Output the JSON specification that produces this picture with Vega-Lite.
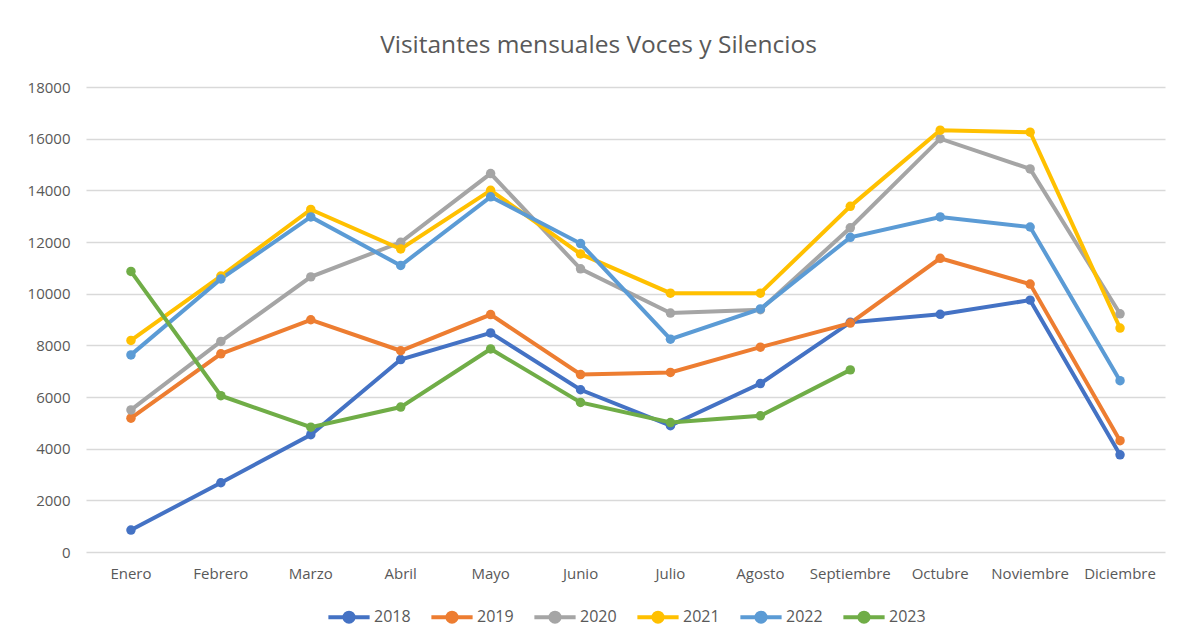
{
  "$schema": "https://vega.github.io/schema/vega-lite/v6.json",
  "autosize": "none",
  "padding": {"left": 86, "top": 87, "right": 12, "bottom": 86},
  "width": 1079,
  "height": 465,
  "background": "white",
  "title": {
    "text": "Visitantes mensuales Voces y Silencios",
    "font": "Open Sans",
    "fontSize": 24.5,
    "fontWeight": "normal",
    "color": "#595959",
    "anchor": "middle",
    "dx": -27,
    "offset": 22
  },
  "config": {
    "view": {"stroke": null},
    "font": "Open Sans",
    "legend": {"layout": {"bottom": {"anchor": "middle"}}}
  },
  "datasets": {
    "d": [
      {"mes": "Enero", "anio": "2018", "v": 850},
      {"mes": "Febrero", "anio": "2018", "v": 2680},
      {"mes": "Marzo", "anio": "2018", "v": 4540},
      {"mes": "Abril", "anio": "2018", "v": 7450},
      {"mes": "Mayo", "anio": "2018", "v": 8480},
      {"mes": "Junio", "anio": "2018", "v": 6280},
      {"mes": "Julio", "anio": "2018", "v": 4890},
      {"mes": "Agosto", "anio": "2018", "v": 6520},
      {"mes": "Septiembre", "anio": "2018", "v": 8890},
      {"mes": "Octubre", "anio": "2018", "v": 9200},
      {"mes": "Noviembre", "anio": "2018", "v": 9750},
      {"mes": "Diciembre", "anio": "2018", "v": 3760},
      {"mes": "Enero", "anio": "2019", "v": 5180},
      {"mes": "Febrero", "anio": "2019", "v": 7670},
      {"mes": "Marzo", "anio": "2019", "v": 8990},
      {"mes": "Abril", "anio": "2019", "v": 7790},
      {"mes": "Mayo", "anio": "2019", "v": 9190},
      {"mes": "Junio", "anio": "2019", "v": 6870},
      {"mes": "Julio", "anio": "2019", "v": 6950},
      {"mes": "Agosto", "anio": "2019", "v": 7930},
      {"mes": "Septiembre", "anio": "2019", "v": 8860},
      {"mes": "Octubre", "anio": "2019", "v": 11370},
      {"mes": "Noviembre", "anio": "2019", "v": 10370},
      {"mes": "Diciembre", "anio": "2019", "v": 4310},
      {"mes": "Enero", "anio": "2020", "v": 5500},
      {"mes": "Febrero", "anio": "2020", "v": 8150},
      {"mes": "Marzo", "anio": "2020", "v": 10650},
      {"mes": "Abril", "anio": "2020", "v": 11990},
      {"mes": "Mayo", "anio": "2020", "v": 14650},
      {"mes": "Junio", "anio": "2020", "v": 10960},
      {"mes": "Julio", "anio": "2020", "v": 9250},
      {"mes": "Agosto", "anio": "2020", "v": 9380},
      {"mes": "Septiembre", "anio": "2020", "v": 12550},
      {"mes": "Octubre", "anio": "2020", "v": 16000},
      {"mes": "Noviembre", "anio": "2020", "v": 14830},
      {"mes": "Diciembre", "anio": "2020", "v": 9220},
      {"mes": "Enero", "anio": "2021", "v": 8190},
      {"mes": "Febrero", "anio": "2021", "v": 10680},
      {"mes": "Marzo", "anio": "2021", "v": 13260},
      {"mes": "Abril", "anio": "2021", "v": 11730},
      {"mes": "Mayo", "anio": "2021", "v": 14000},
      {"mes": "Junio", "anio": "2021", "v": 11540},
      {"mes": "Julio", "anio": "2021", "v": 10020},
      {"mes": "Agosto", "anio": "2021", "v": 10020},
      {"mes": "Septiembre", "anio": "2021", "v": 13380},
      {"mes": "Octubre", "anio": "2021", "v": 16330},
      {"mes": "Noviembre", "anio": "2021", "v": 16250},
      {"mes": "Diciembre", "anio": "2021", "v": 8670},
      {"mes": "Enero", "anio": "2022", "v": 7630},
      {"mes": "Febrero", "anio": "2022", "v": 10570},
      {"mes": "Marzo", "anio": "2022", "v": 12970},
      {"mes": "Abril", "anio": "2022", "v": 11090},
      {"mes": "Mayo", "anio": "2022", "v": 13750},
      {"mes": "Junio", "anio": "2022", "v": 11940},
      {"mes": "Julio", "anio": "2022", "v": 8240},
      {"mes": "Agosto", "anio": "2022", "v": 9410},
      {"mes": "Septiembre", "anio": "2022", "v": 12180},
      {"mes": "Octubre", "anio": "2022", "v": 12970},
      {"mes": "Noviembre", "anio": "2022", "v": 12580},
      {"mes": "Diciembre", "anio": "2022", "v": 6630},
      {"mes": "Enero", "anio": "2023", "v": 10860},
      {"mes": "Febrero", "anio": "2023", "v": 6050},
      {"mes": "Marzo", "anio": "2023", "v": 4830},
      {"mes": "Abril", "anio": "2023", "v": 5610},
      {"mes": "Mayo", "anio": "2023", "v": 7860},
      {"mes": "Junio", "anio": "2023", "v": 5790},
      {"mes": "Julio", "anio": "2023", "v": 5010},
      {"mes": "Agosto", "anio": "2023", "v": 5270},
      {"mes": "Septiembre", "anio": "2023", "v": 7050}
    ]
  },
  "data": {"name": "d"},
  "mark": {
    "type": "line",
    "strokeWidth": 4,
    "point": {"filled": true, "size": 90}
  },
  "encoding": {
    "x": {
      "field": "mes",
      "type": "nominal",
      "sort": ["Enero", "Febrero", "Marzo", "Abril", "Mayo", "Junio", "Julio", "Agosto", "Septiembre", "Octubre", "Noviembre", "Diciembre"],
      "scale": {"type": "band", "paddingInner": 0, "paddingOuter": 0},
      "axis": {
        "title": null,
        "labelAngle": 0,
        "labelFontSize": 15,
        "labelColor": "#595959",
        "labelPadding": 14,
        "ticks": false,
        "domain": false,
        "grid": false
      }
    },
    "y": {
      "field": "v",
      "type": "quantitative",
      "scale": {"domain": [0, 18000], "nice": false},
      "axis": {
        "title": null,
        "values": [0, 2000, 4000, 6000, 8000, 10000, 12000, 14000, 16000, 18000],
        "format": "d",
        "labelFontSize": 15,
        "labelColor": "#595959",
        "labelPadding": 16,
        "ticks": false,
        "domain": false,
        "gridColor": "#D9D9D9",
        "gridWidth": 1.3
      }
    },
    "color": {
      "field": "anio",
      "type": "nominal",
      "scale": {
        "domain": ["2018", "2019", "2020", "2021", "2022", "2023"],
        "range": ["#4472C4", "#ED7D31", "#A5A5A5", "#FFC000", "#5B9BD5", "#70AD47"]
      },
      "legend": {
        "title": null,
        "orient": "bottom",
        "direction": "horizontal",
        "offset": 13,
        "labelFontSize": 16,
        "labelColor": "#595959",
        "symbolType": "M-1,0L1,0M-0.22,0a0.22,0.22 0 1,0 0.44,0a0.22,0.22 0 1,0 -0.44,0",
        "symbolSize": 1700,
        "symbolStrokeWidth": 4,
        "labelOffset": 2,
        "columnPadding": 12,
        "encode": {
          "symbols": {"update": {"fill": {"scale": "color", "field": "value"}}}
        }
      }
    }
  }
}
